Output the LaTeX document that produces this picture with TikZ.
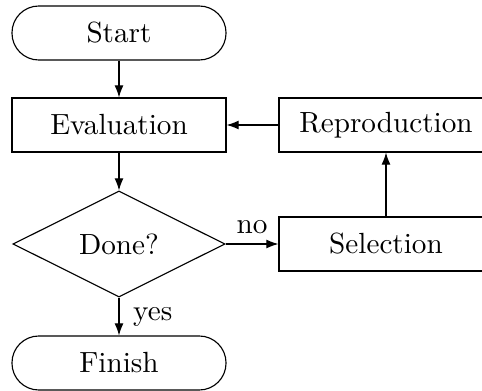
\documentclass[tikz,border=0pt]{standalone}
\usetikzlibrary{shapes.geometric,arrows.meta}
\begin{document}
\begin{tikzpicture}[x=0.3546pt,y=-0.3546pt,
  every node/.style={font=\fontsize{10.35}{12.4}\selectfont},
  boxstyle/.style={draw,rectangle,minimum width=75.9pt,minimum height=19.15pt,inner sep=0pt},
  termstyle/.style={draw,rectangle,rounded corners=9.5pt,minimum width=75.9pt,minimum height=19.15pt,inner sep=0pt},
  decstyle/.style={draw,diamond,aspect=2,minimum width=75.2pt,minimum height=37.6pt,inner sep=0pt},
  arr/.style={-{Latex[length=4.3pt,width=3.2pt]}}]
\useasboundingbox (0,0) rectangle (482,391);
\clip (0,0) rectangle (482,391);
\node[termstyle] (start) at (119,33) {Start};
\node[boxstyle] (eval) at (119,125) {Evaluation};
\node[boxstyle] (repro) at (386,125) {Reproduction};
\node[decstyle] (done) at (119,244) {Done?};
\node[boxstyle] (sel) at (386,244) {Selection};
\node[termstyle] (finish) at (119,363) {Finish};
\draw[arr] (start) -- (eval);
\draw[arr] (eval) -- (done);
\draw[arr] (done) -- node[right,xshift=1.5pt] {yes} (finish);
\draw[arr] (done) -- node[above] {no} (sel);
\draw[arr] (sel) -- (repro);
\draw[arr] (repro) -- (eval);
\end{tikzpicture}
\end{document}
